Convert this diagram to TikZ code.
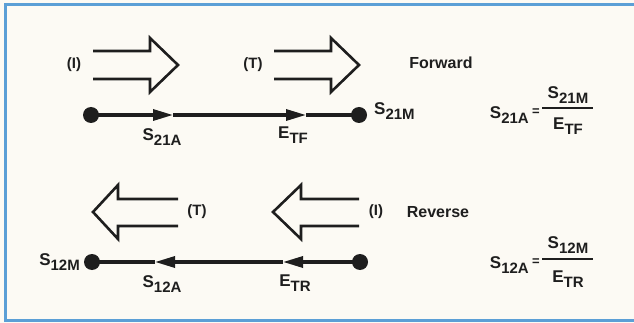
\documentclass[tikz,border=0pt]{standalone}
\usepackage{fontspec}
\setmainfont{Liberation Sans}
\usetikzlibrary{arrows.meta}
\definecolor{bg}{HTML}{FCFAF4}
\definecolor{frameblue}{HTML}{5B9FD6}
\definecolor{ink}{HTML}{1E1E1E}
\newcommand\Sg[2]{#1\raisebox{-0.3em}{\fontsize{15}{15}\selectfont #2}}
\begin{document}
\begin{tikzpicture}[x=1pt,y=-1pt,
 lbl/.style={font=\bfseries\fontsize{17}{17}\selectfont, text=ink, inner sep=0pt},
 eqs/.style={font=\bfseries\fontsize{13}{13}\selectfont, text=ink, inner sep=0pt},
 word/.style={font=\bfseries\fontsize{16}{16}\selectfont, text=ink, inner sep=0pt},
 paren/.style={font=\bfseries\fontsize{15}{15}\selectfont, text=ink, inner sep=0pt},
 outline/.style={draw=ink, line width=2.6pt, line join=miter},
 sig/.style={draw=ink, line width=3.2pt},
 dotn/.style={circle, fill=ink, minimum size=16pt, inner sep=0pt},
 tip/.style={-{Triangle[length=20pt,width=11pt]}},
 bar/.style={draw=ink, line width=1.3pt}
]
\useasboundingbox (0,0) rectangle (634,323);
\fill[bg] (0,0) rectangle (634,323);
\draw[frameblue, line width=3pt] (640,5) -- (5,5) -- (5,320) -- (640,320);

% ---------- Forward ----------
\draw[outline] (93,51) -- (150,51) -- (150,38) -- (178,65) -- (150,92) -- (150,79) -- (93,79);
\draw[outline] (274,51) -- (331,51) -- (331,38) -- (359,65) -- (331,92) -- (331,79) -- (274,79);
\node[paren] (fI) at (74,65) {(I)};
\node[paren] (fT) at (253,65) {(T)};
\node[word] (fwd) at (441,63) {Forward};

\node[dotn] (f1) at (91,115) {};
\node[dotn] (f2) at (359,115) {};
\coordinate (fa) at (173,115);
\coordinate (fb) at (306,115);
\draw[sig, tip] (f1.center) -- (fa);
\draw[sig, tip] (fa) -- (fb);
\draw[sig] (fb) -- (f2.center);
\node[lbl] (s21a) at (162,137) {\Sg{S}{21A}};
\node[lbl] (etf) at (293,135) {\Sg{E}{TF}};
\node[lbl, anchor=west] (s21m) at (374,111) {\Sg{S}{21M}};

\node[lbl, anchor=east] (fl) at (529,115) {\Sg{S}{21A}};
\node[eqs] (feq) at (536,112) {=};
\coordinate (fb1) at (542,108);
\coordinate (fb2) at (593,108);
\draw[bar] (fb1) -- (fb2);
\node[lbl] (fn) at (568,95) {\Sg{S}{21M}};
\node[lbl] (fd) at (568,126) {\Sg{E}{TF}};

% ---------- Reverse ----------
\draw[outline] (178,199) -- (118,199) -- (118,185) -- (93,212) -- (118,239) -- (118,226) -- (178,226);
\draw[outline] (359,199) -- (301,199) -- (301,185) -- (273,212) -- (301,239) -- (301,226) -- (359,226);
\node[paren] (rT) at (197,212) {(T)};
\node[paren] (rI) at (376,212) {(I)};
\node[word] (rev) at (438,212) {Reverse};

\node[dotn] (r1) at (92,262) {};
\node[dotn] (r2) at (360,262) {};
\coordinate (ra) at (155,262);
\coordinate (rb) at (283,262);
\draw[sig, tip] (r2.center) -- (rb);
\draw[sig, tip] (rb) -- (ra);
\draw[sig] (ra) -- (r1.center);
\node[lbl, anchor=east] (s12m) at (80,262) {\Sg{S}{12M}};
\node[lbl] (s12a) at (162,284) {\Sg{S}{12A}};
\node[lbl] (etr) at (295,283) {\Sg{E}{TR}};

\node[lbl, anchor=east] (rl) at (529,265) {\Sg{S}{12A}};
\node[eqs] (req) at (536,262) {=};
\coordinate (rb1) at (542,259);
\coordinate (rb2) at (593,259);
\draw[bar] (rb1) -- (rb2);
\node[lbl] (rn) at (568,245) {\Sg{S}{12M}};
\node[lbl] (rd) at (568,279) {\Sg{E}{TR}};
\end{tikzpicture}
\end{document}
